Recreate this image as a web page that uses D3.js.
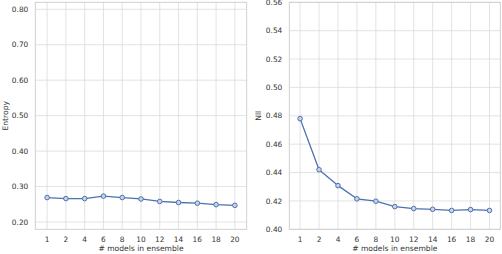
<!DOCTYPE html>
<html>
<head>
<meta charset="utf-8">
<script src="https://cdn.jsdelivr.net/npm/d3@7"></script>
<style>
  body { margin: 0; background: #fff; }
  svg { display: block; font-family: "DejaVu Sans", sans-serif; }
</style>
</head>
<body>
<svg id="chart" width="502" height="254"></svg>
<script>
// ensemble sizes (categorical x axis)
var models = ['1', '2', '4', '6', '8', '10', '12', '14', '16', '18', '20'];

// left panel: entropy
var entropy = [0.269, 0.266, 0.266, 0.273, 0.269, 0.265, 0.258, 0.255, 0.253, 0.249, 0.247];
var entropyTicks = [0.20, 0.30, 0.40, 0.50, 0.60, 0.70, 0.80];

// right panel: nll
var nll = [0.478, 0.442, 0.4308, 0.4215, 0.4198, 0.416, 0.4146, 0.4141, 0.4133, 0.4139, 0.4133];
var nllTicks = [0.40, 0.42, 0.44, 0.46, 0.48, 0.50, 0.52, 0.54, 0.56];

var svg = d3.select('#chart');
var blue = '#4c72b0';
var gridColor = '#dcdcdc';

function panel(opts) {
  var g = svg.append('g');
  var x = d3.scaleLinear()
      .domain([-opts.pad, models.length - 1 + opts.pad])
      .range([opts.left, opts.right]);
  var y = d3.scaleLinear()
      .domain(opts.ydomain)
      .range([opts.bottom, opts.top]);

  // grid
  g.selectAll('line.hgrid').data(opts.ticks).enter().append('line')
      .attr('x1', opts.left).attr('x2', opts.right)
      .attr('y1', function(d) { return y(d); })
      .attr('y2', function(d) { return y(d); })
      .attr('stroke', gridColor).attr('stroke-width', 0.8);
  g.selectAll('line.vgrid').data(models).enter().append('line')
      .attr('x1', function(d, i) { return x(i); })
      .attr('x2', function(d, i) { return x(i); })
      .attr('y1', opts.top).attr('y2', opts.bottom)
      .attr('stroke', gridColor).attr('stroke-width', 0.8);

  // frame
  g.append('rect')
      .attr('x', opts.left).attr('y', opts.top)
      .attr('width', opts.right - opts.left)
      .attr('height', opts.bottom - opts.top)
      .attr('fill', 'none')
      .attr('stroke', '#cccccc').attr('stroke-width', 0.9);

  // tick labels
  g.selectAll('text.ytick').data(opts.ticks).enter().append('text')
      .attr('x', opts.left - 7)
      .attr('y', function(d) { return y(d); })
      .attr('dy', '0.35em')
      .attr('text-anchor', 'end')
      .attr('font-size', '7.4px')
      .attr('fill', '#333')
      .text(function(d) { return d3.format('.2f')(d); });
  g.selectAll('text.xtick').data(models).enter().append('text')
      .attr('x', function(d, i) { return x(i); })
      .attr('y', opts.bottom + 10)
      .attr('dy', '0.35em')
      .attr('text-anchor', 'middle')
      .attr('font-size', '7.4px')
      .attr('fill', '#333')
      .text(function(d) { return d; });

  // axis titles
  g.append('text')
      .attr('x', (opts.left + opts.right) / 2)
      .attr('y', 248)
      .attr('dy', '0.35em')
      .attr('text-anchor', 'middle')
      .attr('font-size', '7.6px')
      .attr('fill', '#333')
      .text('# models in ensemble');
  g.append('text')
      .attr('transform', 'translate(' + opts.ylabelX + ',' + ((opts.top + opts.bottom) / 2) + ') rotate(-90)')
      .attr('dy', '0.35em')
      .attr('text-anchor', 'middle')
      .attr('font-size', '7.6px')
      .attr('fill', '#333')
      .text(opts.ylabel);

  // line + markers
  var line = d3.line()
      .x(function(d, i) { return x(i); })
      .y(function(d) { return y(d); });
  g.append('path')
      .datum(opts.values)
      .attr('fill', 'none')
      .attr('stroke', blue)
      .attr('stroke-width', 1.3)
      .attr('stroke-linejoin', 'round')
      .attr('d', line);
  g.selectAll('circle').data(opts.values).enter().append('circle')
      .attr('cx', function(d, i) { return x(i); })
      .attr('cy', function(d) { return y(d); })
      .attr('r', 2.3)
      .attr('fill', '#c9d3e8')
      .attr('stroke', blue)
      .attr('stroke-width', 1);
}

panel({
  left: 35.3, right: 246.7, top: 2.3, bottom: 229.3, pad: 0.63,
  ydomain: [0.1794, 0.8197], ticks: entropyTicks, values: entropy,
  ylabel: 'Entropy', ylabelX: 5
});

panel({
  left: 289.3, right: 500.3, top: 2.3, bottom: 229.3, pad: 0.57,
  ydomain: [0.40, 0.56], ticks: nllTicks, values: nll,
  ylabel: 'Nll', ylabelX: 258
});
</script>
</body>
</html>
